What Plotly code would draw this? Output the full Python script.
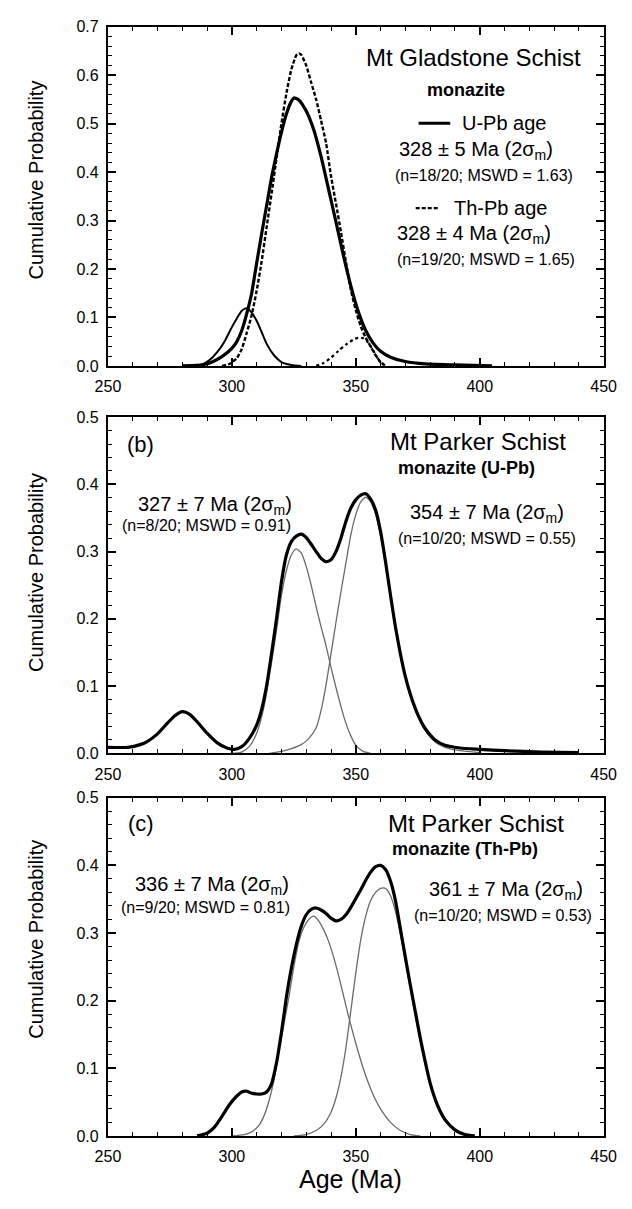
import plotly.graph_objects as go

# ---------------- data ----------------
# Panel (a) Mt Gladstone Schist
a_upb_age = [280, 286, 289, 292, 296, 300, 302, 304, 306, 308, 310, 312, 314, 316, 318, 320, 322, 324, 325,
             327, 330, 333, 336, 339, 342, 345, 348, 351, 354, 357, 360, 364, 370, 378, 390, 405]
a_upb_p = [0.000, 0.001, 0.003, 0.008, 0.019, 0.036, 0.050, 0.073, 0.108, 0.150, 0.212, 0.272, 0.330, 0.388,
           0.437, 0.482, 0.520, 0.546, 0.553, 0.549, 0.526, 0.488, 0.432, 0.365, 0.297, 0.228, 0.165, 0.112,
           0.073, 0.047, 0.030, 0.018, 0.009, 0.004, 0.002, 0.000]

a_thpb_age = [296, 299, 302, 304, 306, 308, 310, 312, 314, 316, 318, 320, 322, 324, 326, 327, 328, 330, 332,
              334, 336, 338, 340, 342, 344, 346, 348, 350, 352, 354, 356, 358, 360, 362]
a_thpb_p = [0.000, 0.004, 0.016, 0.035, 0.068, 0.105, 0.155, 0.215, 0.285, 0.355, 0.428, 0.500, 0.562, 0.612,
            0.641, 0.645, 0.642, 0.620, 0.585, 0.550, 0.506, 0.460, 0.392, 0.335, 0.277, 0.215, 0.157, 0.115,
            0.082, 0.058, 0.040, 0.022, 0.008, 0.000]

a_comp1_age = [284, 288, 291, 294, 297, 300, 302, 304, 306, 308, 310, 312, 314, 317, 320, 324, 328]
a_comp1_p = [0.000, 0.003, 0.012, 0.028, 0.050, 0.080, 0.098, 0.114, 0.119, 0.110, 0.093, 0.070, 0.046,
             0.022, 0.008, 0.002, 0.000]

a_comp2_age = [334, 337, 340, 343, 346, 349, 351, 353, 355, 357, 359, 361]
a_comp2_p = [0.000, 0.006, 0.017, 0.031, 0.044, 0.054, 0.058, 0.057, 0.048, 0.032, 0.014, 0.000]

# Panel (b) Mt Parker Schist, U-Pb
b_sum_age = [250, 258, 263, 266, 270, 274, 277, 280, 283, 286, 290, 294, 298, 301, 304, 307, 310, 312, 314,
             316, 318, 320, 322, 324, 326, 328, 330, 332, 334, 336, 338, 340, 342, 344, 346, 348, 350, 352,
             354, 356, 358, 360, 362, 364, 366, 368, 370, 372, 375, 378, 382, 386, 392, 400, 410, 425, 440]
b_sum_p = [0.009, 0.009, 0.013, 0.018, 0.029, 0.045, 0.056, 0.062, 0.058, 0.047, 0.030, 0.016, 0.008, 0.006,
           0.010, 0.022, 0.042, 0.065, 0.100, 0.148, 0.200, 0.255, 0.295, 0.315, 0.323, 0.326, 0.321, 0.311,
           0.300, 0.290, 0.285, 0.288, 0.300, 0.320, 0.345, 0.365, 0.377, 0.384, 0.386, 0.378, 0.362, 0.330,
           0.285, 0.235, 0.188, 0.148, 0.114, 0.088, 0.058, 0.037, 0.020, 0.012, 0.008, 0.006, 0.004, 0.002,
           0.001]

b_c1_age = [300, 304, 307, 310, 313, 316, 318, 320, 322, 324, 326, 328, 330, 332, 334, 336, 338, 340, 342,
            344, 346, 348, 350, 353, 356]
b_c1_p = [0.000, 0.002, 0.010, 0.030, 0.070, 0.135, 0.183, 0.235, 0.272, 0.295, 0.304, 0.298, 0.278, 0.250,
          0.218, 0.188, 0.160, 0.128, 0.098, 0.070, 0.045, 0.026, 0.012, 0.003, 0.000]

b_c2_age = [315, 320, 324, 328, 331, 334, 336, 338, 340, 342, 344, 346, 348, 350, 352, 354, 356, 358, 360,
            362, 364, 366, 368, 370, 372, 375, 378, 382, 386, 392, 400]
b_c2_p = [0.000, 0.003, 0.007, 0.013, 0.022, 0.038, 0.064, 0.102, 0.148, 0.195, 0.240, 0.283, 0.325, 0.355,
          0.374, 0.381, 0.374, 0.355, 0.323, 0.280, 0.232, 0.186, 0.146, 0.112, 0.085, 0.055, 0.034, 0.017,
          0.009, 0.004, 0.001]

# Panel (c) Mt Parker Schist, Th-Pb
c_sum_age = [286, 290, 293, 296, 299, 302, 304, 306, 308, 310, 312, 314, 316, 318, 320, 322, 324, 326, 328,
             330, 332, 334, 336, 338, 340, 342, 344, 346, 348, 350, 352, 354, 356, 358, 360, 362, 364, 366,
             368, 370, 372, 374, 376, 378, 380, 383, 386, 390, 394, 398]
c_sum_p = [0.000, 0.004, 0.013, 0.029, 0.046, 0.059, 0.065, 0.066, 0.063, 0.062, 0.062, 0.065, 0.077, 0.108,
           0.153, 0.205, 0.248, 0.283, 0.310, 0.327, 0.335, 0.337, 0.334, 0.329, 0.322, 0.318, 0.320, 0.327,
           0.338, 0.351, 0.364, 0.378, 0.390, 0.398, 0.400, 0.394, 0.377, 0.348, 0.306, 0.264, 0.223, 0.184,
           0.145, 0.110, 0.078, 0.045, 0.024, 0.009, 0.002, 0.000]

c_c1_age = [300, 305, 308, 311, 313, 315, 317, 319, 321, 323, 325, 327, 329, 331, 333, 335, 337, 339, 341,
            343, 345, 347, 349, 351, 353, 355, 357, 360, 364, 368, 372, 376]
c_c1_p = [0.000, 0.002, 0.006, 0.016, 0.030, 0.052, 0.083, 0.125, 0.165, 0.205, 0.250, 0.287, 0.308, 0.320,
          0.325, 0.318, 0.305, 0.288, 0.265, 0.238, 0.208, 0.178, 0.150, 0.124, 0.100, 0.079, 0.061, 0.040,
          0.020, 0.008, 0.002, 0.000]

c_c2_age = [325, 330, 334, 337, 340, 342, 344, 346, 348, 350, 352, 354, 356, 358, 360, 362, 364, 366, 368,
            370, 372, 374, 376, 378, 380, 383, 386, 390, 395]
c_c2_p = [0.000, 0.002, 0.008, 0.017, 0.035, 0.056, 0.087, 0.130, 0.185, 0.241, 0.290, 0.325, 0.348, 0.360,
          0.366, 0.366, 0.355, 0.332, 0.298, 0.258, 0.218, 0.178, 0.140, 0.105, 0.075, 0.042, 0.022, 0.007,
          0.000]

x_ticks = [250, 300, 350, 400, 450]

# ---------------- figure ----------------
W, H = 632, 1209
FONT = "Liberation Sans, Arial, Helvetica, sans-serif"


def px(x):
    return x / W


def py(y):
    return 1 - y / H


fig = go.Figure()

THICK = dict(color="black", width=3.2, shape="spline", smoothing=0.6)
THIN = dict(color="#6a6a6a", width=1.3, shape="spline", smoothing=0.6)

# panel a
fig.add_trace(go.Scatter(x=a_comp1_age, y=a_comp1_p, mode="lines",
                         line=dict(color="black", width=2, shape="spline", smoothing=0.6), xaxis="x", yaxis="y"))
fig.add_trace(go.Scatter(x=a_comp2_age, y=a_comp2_p, mode="lines",
                         line=dict(color="black", width=2.2, dash="dot", shape="spline", smoothing=0.6),
                         xaxis="x", yaxis="y"))
fig.add_trace(go.Scatter(x=a_thpb_age, y=a_thpb_p, mode="lines",
                         line=dict(color="black", width=2.4, dash="4px,2px", shape="spline", smoothing=0.6),
                         xaxis="x", yaxis="y"))
fig.add_trace(go.Scatter(x=a_upb_age, y=a_upb_p, mode="lines", line=THICK, xaxis="x", yaxis="y"))

# panel b
fig.add_trace(go.Scatter(x=b_c1_age, y=b_c1_p, mode="lines", line=THIN, xaxis="x2", yaxis="y2"))
fig.add_trace(go.Scatter(x=b_c2_age, y=b_c2_p, mode="lines", line=THIN, xaxis="x2", yaxis="y2"))
fig.add_trace(go.Scatter(x=b_sum_age, y=b_sum_p, mode="lines", line=THICK, xaxis="x2", yaxis="y2"))

# panel c
fig.add_trace(go.Scatter(x=c_c1_age, y=c_c1_p, mode="lines", line=THIN, xaxis="x3", yaxis="y3"))
fig.add_trace(go.Scatter(x=c_c2_age, y=c_c2_p, mode="lines", line=THIN, xaxis="x3", yaxis="y3"))
fig.add_trace(go.Scatter(x=c_sum_age, y=c_sum_p, mode="lines", line=THICK, xaxis="x3", yaxis="y3"))

xdom = [px(99), px(616)]
panels = [  # (top px, bottom px, ymax)
    (19, 363, 0.7),
    (415, 756, 0.5),
    (801, 1144, 0.5),
]

axis_common = dict(showline=True, linecolor="black", linewidth=2, mirror="allticks",
                   ticks="inside", ticklen=8, tickwidth=1.5, tickcolor="black",
                   showgrid=False, zeroline=False,
                   tickfont=dict(family=FONT, size=16, color="black"))

layout = dict(width=W, height=H, margin=dict(l=0, r=0, t=0, b=0),
              paper_bgcolor="white", plot_bgcolor="white", showlegend=False,
              font=dict(family=FONT, color="black"))

for i, (top, bot, ymax) in enumerate(panels):
    sfx = "" if i == 0 else str(i + 1)
    layout["xaxis" + sfx] = dict(axis_common, domain=xdom, range=[250, 450], tickvals=x_ticks,
                                 anchor="y" + sfx, ticklabelstandoff=5,
                                 minor=dict(ticks="inside", dtick=10, ticklen=4, tickwidth=1,
                                            tickcolor="black"))
    layout["yaxis" + sfx] = dict(axis_common, domain=[py(bot), py(top)], range=[0, ymax], dtick=0.1,
                                 tickformat=".1f", anchor="x" + sfx, ticklabelstandoff=4,
                                 minor=dict(ticks="inside", dtick=0.02, ticklen=4, tickwidth=1,
                                            tickcolor="black"))

fig.update_layout(**layout)

ann = []


def txt(x, y, s, size, **kw):
    ann.append(dict(x=px(x), y=py(y), xref="paper", yref="paper", text=s, showarrow=False,
                    font=dict(family=FONT, size=size, color="black"), xanchor="center", yanchor="middle", **kw))


# y titles
for (top, bot, ymax), yc in zip(panels, [175, 573, 945]):
    txt(24, yc, "Cumulative Probability", 20, textangle=-90)

txt(352, 1188, "Age (Ma)", 25)

# panel a texts
txt(480, 50, "Mt Gladstone Schist", 24)
txt(472, 83, "<b>monazite</b>", 18)
txt(513, 117, "U-Pb age", 20)
txt(483, 145, "328 ± 5 Ma (2σ<sub>m</sub>)", 20)
txt(491, 170, "(n=18/20; MSWD = 1.63)", 16)
txt(508, 203, "Th-Pb age", 20)
txt(481, 230, "328 ± 4 Ma (2σ<sub>m</sub>)", 20)
txt(493, 255, "(n=19/20; MSWD = 1.65)", 16)

# panel b texts
txt(133, 443, "(b)", 22)
txt(485, 440, "Mt Parker Schist", 24)
txt(473, 467, "<b>monazite (U-Pb)</b>", 18)
txt(211, 505, "327 ± 7 Ma (2σ<sub>m</sub>)", 20)
txt(202, 525, "(n=8/20; MSWD = 0.91)", 16)
txt(494, 513, "354 ± 7 Ma (2σ<sub>m</sub>)", 20)
txt(494, 538, "(n=10/20; MSWD = 0.55)", 16)

# panel c texts
txt(134, 827, "(c)", 22)
txt(483, 827, "Mt Parker Schist", 24)
txt(471, 853, "<b>monazite (Th-Pb)</b>", 18)
txt(208, 890, "336 ± 7 Ma (2σ<sub>m</sub>)", 20)
txt(201, 912, "(n=9/20; MSWD = 0.81)", 16)
txt(514, 895, "361 ± 7 Ma (2σ<sub>m</sub>)", 20)
txt(511, 920, "(n=10/20; MSWD = 0.53)", 16)

fig.update_layout(annotations=ann)

# legend line samples (panel a)
fig.add_shape(type="line", xref="paper", yref="paper", x0=px(423), x1=px(456), y0=py(117), y1=py(117),
              line=dict(color="black", width=3))
fig.add_shape(type="line", xref="paper", yref="paper", x0=px(420), x1=px(444), y0=py(203), y1=py(203),
              line=dict(color="black", width=2.4, dash="4px,2px"))

fig.write_html("out.html")
